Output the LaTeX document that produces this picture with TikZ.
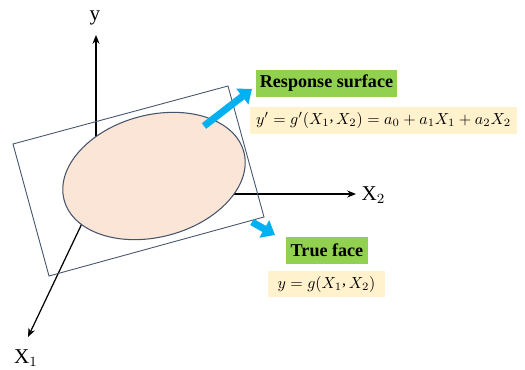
\documentclass[tikz,border=0pt]{standalone}
\usepackage{fontspec}
\usepackage{graphicx}
\setmainfont{Liberation Serif}
\usetikzlibrary{arrows.meta}
\definecolor{pointblue}{HTML}{00B0F0}
\definecolor{tagreen}{HTML}{92D050}
\definecolor{eqpeach}{HTML}{FFF2CC}
\definecolor{surfpink}{HTML}{FBE5D6}
\definecolor{edgeslate}{HTML}{44546A}
\newcommand{\xsep}{\mathpunct{\raisebox{0.4ex}{,}}}
\newcommand{\eqtext}[1]{\scalebox{0.91}{$#1$}}
\tikzset{
  axis/.style={line width=0.7pt,-{Stealth[length=5pt,width=4pt]}},
  axlabel/.style={font=\fontsize{12}{14}\selectfont},
  plane/.style={draw=edgeslate,line width=0.5pt},
  surf/.style={draw=edgeslate,line width=0.6pt,fill=surfpink},
  pointer/.style={pointblue,line width=4pt,-{Triangle[length=7pt,width=11pt]}},
  tag/.style={fill=tagreen,font=\fontsize{10.3}{12}\selectfont\bfseries,minimum height=0.54cm,inner sep=2pt},
  eqbox/.style={fill=eqpeach,font=\fontsize{10}{12}\selectfont,minimum height=0.53cm,inner sep=1pt}
}
\begin{document}
\begin{tikzpicture}
  \useasboundingbox (0,0) rectangle (10.5,7.38);
  % axes
  \coordinate (O) at (1.92,3.50);
  \coordinate (ytip) at (1.92,6.68);
  \coordinate (xtwotip) at (7.12,3.50);
  \coordinate (xonetip) at (0.56,0.64);
  \draw[axis] (O) -- (ytip);
  \draw[axis] (O) -- (xtwotip);
  \draw[axis] (O) -- (xonetip);
  \node[axlabel] (ylab) at (1.90,7.02) {y};
  \node[axlabel] (xtwolab) at (7.47,3.47) {X$_2$};
  \node[axlabel] (xonelab) at (0.52,0.21) {X$_1$};
  % plane and surface
  \draw[plane] (0.26,4.50) -- (4.56,5.66) -- (5.28,3.04) -- (0.98,1.86) -- cycle;
  \draw[surf] (3.08,3.86) ellipse[x radius=1.86cm,y radius=1.22cm,rotate=15];
  % pointers
  \coordinate (rsfrom) at (4.08,4.86);
  \coordinate (rsto) at (5.04,5.60);
  \coordinate (tffrom) at (5.04,2.94);
  \coordinate (tfto) at (5.50,2.68);
  \draw[pointer] (rsfrom) -- (rsto);
  \draw[pointer] (tffrom) -- (tfto);
  % labels
  \node[tag,minimum width=2.78cm] (rstag) at (6.53,5.71) {Response surface};
  \node[eqbox,minimum width=5.34cm] (rseq) at (7.67,4.97) {\eqtext{y' = g'(X_1\xsep X_2) = a_0 + a_1X_1 + a_2X_2}};
  \node[tag,minimum width=1.64cm] (tftag) at (6.54,2.38) {True face};
  \node[eqbox,minimum width=2.34cm] (tfeq) at (6.53,1.70) {\eqtext{y = g(X_1\xsep X_2)}};
\end{tikzpicture}
\end{document}
